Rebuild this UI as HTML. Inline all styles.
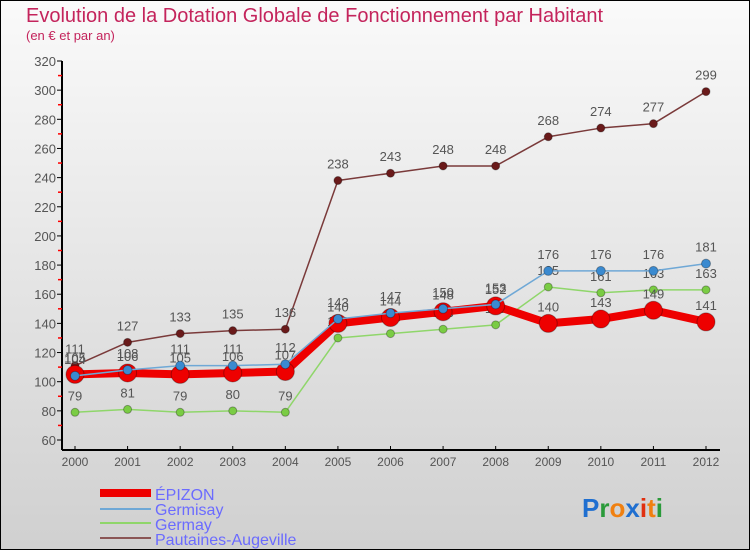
<!DOCTYPE html>
<html><head><meta charset="utf-8"><style>
body{margin:0;}
#wrap{width:750px;height:550px;position:relative;overflow:hidden;}
svg{display:block;font-family:"Liberation Sans",sans-serif;}
</style></head><body>
<div id="wrap">
<svg id="svg" width="750" height="550" xmlns="http://www.w3.org/2000/svg">
<defs><linearGradient id="bg" x1="0" y1="0" x2="0" y2="1"><stop offset="0" stop-color="#fafafa"/><stop offset="1" stop-color="#d0d0d0"/></linearGradient></defs>
<rect x="0.5" y="0.5" width="749" height="549" fill="url(#bg)" stroke="#000"/>
<text x="26" y="22" font-size="20" fill="#c4245c">Evolution de la Dotation Globale de Fonctionnement par Habitant</text>
<text x="26" y="40" font-size="13" fill="#c4245c">(en € et par an)</text>
<g id="axes"></g><g id="series"></g>
<g font-size="16" fill="#6b6bff">
<rect x="100" y="489" width="51" height="8" fill="#e00"/>
<text x="155" y="500">ÉPIZON</text>
<rect x="100" y="508" width="51" height="2" fill="#6fa8d6"/>
<text x="155" y="515">Germisay</text>
<rect x="100" y="522" width="51" height="2" fill="#8fd66a"/>
<text x="155" y="530">Germay</text>
<rect x="100" y="537" width="51" height="2" fill="#8a5555"/>
<text x="155" y="545">Pautaines-Augeville</text>
</g>
<text x="582" y="517" font-size="26" font-weight="bold"><tspan fill="#1f6fd0">P</tspan><tspan fill="#2a9a3a">r</tspan><tspan fill="#f08010">o</tspan><tspan fill="#1f6fd0">x</tspan><tspan fill="#e03010">i</tspan><tspan fill="#f08010">t</tspan><tspan fill="#2a9a3a">i</tspan></text>
</svg></div>
<script>
const years=[2000,2001,2002,2003,2004,2005,2006,2007,2008,2009,2010,2011,2012];
const epizon=[105,106,105,106,107,140,144,148,152,140,143,149,141];
const germisay=[104,108,111,111,112,143,147,150,153,176,176,176,181];
const germay=[79,81,79,80,79,130,133,136,139,165,161,163,163];
const pautaines=[111,127,133,135,136,238,243,248,248,268,274,277,299];
const yTicks=[60,80,100,120,140,160,180,200,220,240,260,280,300,320];
const NS="http://www.w3.org/2000/svg";
const X=i=>75+i*(706-75)/12;
const Y=v=>440-(v-60)*(440-61)/260;
function mk(t,a,p){const e=document.createElementNS(NS,t);for(const k in a)e.setAttribute(k,a[k]);if(p)p.appendChild(e);return e;}
const ax=document.getElementById('axes');
const yl=mk('line',{x1:62,y1:61,x2:62,y2:450,stroke:'#000','stroke-width':2},ax);


const xl=mk('line',{x1:62,y1:450,x2:720,y2:450,stroke:'#000','stroke-width':2},ax);


yTicks.forEach(v=>{
 mk('line',{x1:57,y1:Y(v),x2:62,y2:Y(v),stroke:'#000'},ax);
 if(v<320)mk('line',{x1:58,y1:Y(v+10),x2:62,y2:Y(v+10),stroke:'#f00','stroke-width':1.5},ax);
 const t=mk('text',{x:56,y:Y(v)+5,'text-anchor':'end','font-size':13,fill:'#555'},ax);
 t.textContent=v;
 
 
});
years.forEach((y,i)=>{
 mk('line',{x1:X(i),y1:446,x2:X(i),y2:450,stroke:'#000'},ax);
 const t=mk('text',{x:X(i),y:466,'text-anchor':'middle','font-size':12,fill:'#555'},ax);
 t.textContent=y;
 
 
});
const sg=document.getElementById('series');
function series(name,data,color,w,r,dot){
 const g=mk('g',{},sg);
 
 
 const pl=mk('polyline',{points:data.map((v,i)=>X(i)+','+Y(v)).join(' '),fill:'none',stroke:color,'stroke-width':w,'stroke-linejoin':'round'},g);
 
 
 data.forEach((v,i)=>{
  const c=mk('circle',{cx:X(i),cy:Y(v),r:r,fill:dot,stroke:'rgba(0,0,0,0.3)','stroke-width':1},g);
  
  
  const t=mk('text',{x:X(i),y:Y(v)-12,'text-anchor':'middle','font-size':13,fill:'#555'},g);
  t.textContent=v;
  
  
 });
}
series('pautaines',pautaines,'#7a3a3a',1.5,4,'#6a1a1a');
series('germay',germay,'#8fd66a',1.5,4,'#7acc44');
series('epizon',epizon,'#ee0000',8,9,'#ee0000');
series('germisay',germisay,'#6fa8d6',1.5,4.5,'#3a8ad0');
</script>
</body></html>
